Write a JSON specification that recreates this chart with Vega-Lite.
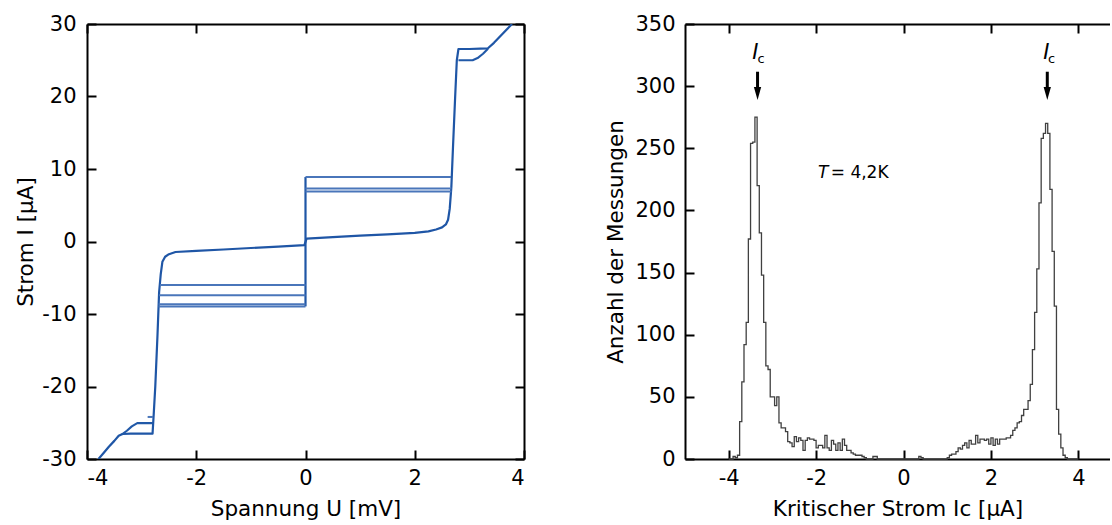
{
  "$schema": "https://vega.github.io/schema/vega-lite/v6.json",
  "padding": {"left": 15, "top": 13, "right": 0, "bottom": 0},
  "spacing": 80,
  "config": {
    "view": {"stroke": null},
    "font": "DejaVu Sans",
    "axis": {
      "grid": false,
      "domainColor": "black",
      "domainWidth": 2,
      "tickColor": "black",
      "tickWidth": 2,
      "tickSize": -9,
      "labelFont": "DejaVu Sans",
      "labelFontSize": 21,
      "labelColor": "black",
      "labelExpr": "replace(datum.label, '−', '-')",
      "titleFont": "DejaVu Sans",
      "titleFontSize": 21.5,
      "titleFontWeight": "normal",
      "titleColor": "black"
    }
  },
  "datasets": {
    "iv": [
      {"s": "m", "k": "main", "i": 0, "U": -3.79, "I": -30.0},
      {"s": "m", "k": "main", "i": 1, "U": -3.70, "I": -29.2},
      {"s": "m", "k": "main", "i": 2, "U": -3.60, "I": -28.3},
      {"s": "m", "k": "main", "i": 3, "U": -3.50, "I": -27.5},
      {"s": "m", "k": "main", "i": 4, "U": -3.42, "I": -26.8},
      {"s": "m", "k": "main", "i": 5, "U": -3.35, "I": -26.55},
      {"s": "m", "k": "main", "i": 6, "U": -3.20, "I": -26.5},
      {"s": "m", "k": "main", "i": 7, "U": -3.00, "I": -26.5},
      {"s": "m", "k": "main", "i": 8, "U": -2.80, "I": -26.5},
      {"s": "m", "k": "main", "i": 9, "U": -2.78, "I": -24.0},
      {"s": "m", "k": "main", "i": 10, "U": -2.75, "I": -20.0},
      {"s": "m", "k": "main", "i": 11, "U": -2.71, "I": -13.0},
      {"s": "m", "k": "main", "i": 12, "U": -2.68, "I": -7.0},
      {"s": "m", "k": "main", "i": 13, "U": -2.65, "I": -4.5},
      {"s": "m", "k": "main", "i": 14, "U": -2.62, "I": -2.8},
      {"s": "m", "k": "main", "i": 15, "U": -2.57, "I": -2.1},
      {"s": "m", "k": "main", "i": 16, "U": -2.50, "I": -1.75},
      {"s": "m", "k": "main", "i": 17, "U": -2.38, "I": -1.45},
      {"s": "m", "k": "main", "i": 18, "U": -2.00, "I": -1.3},
      {"s": "m", "k": "main", "i": 19, "U": -1.50, "I": -1.1},
      {"s": "m", "k": "main", "i": 20, "U": -1.00, "I": -0.9},
      {"s": "m", "k": "main", "i": 21, "U": -0.50, "I": -0.7},
      {"s": "m", "k": "main", "i": 22, "U": -0.02, "I": -0.5},
      {"s": "m", "k": "main", "i": 23, "U": 0.02, "I": 0.4},
      {"s": "m", "k": "main", "i": 24, "U": 0.50, "I": 0.6},
      {"s": "m", "k": "main", "i": 25, "U": 1.00, "I": 0.8},
      {"s": "m", "k": "main", "i": 26, "U": 1.50, "I": 0.98},
      {"s": "m", "k": "main", "i": 27, "U": 2.00, "I": 1.2},
      {"s": "m", "k": "main", "i": 28, "U": 2.25, "I": 1.4},
      {"s": "m", "k": "main", "i": 29, "U": 2.39, "I": 1.66},
      {"s": "m", "k": "main", "i": 30, "U": 2.50, "I": 1.95},
      {"s": "m", "k": "main", "i": 31, "U": 2.57, "I": 2.35},
      {"s": "m", "k": "main", "i": 32, "U": 2.61, "I": 3.0},
      {"s": "m", "k": "main", "i": 33, "U": 2.64, "I": 4.5},
      {"s": "m", "k": "main", "i": 34, "U": 2.67, "I": 7.5},
      {"s": "m", "k": "main", "i": 35, "U": 2.70, "I": 13.0},
      {"s": "m", "k": "main", "i": 36, "U": 2.74, "I": 20.0},
      {"s": "m", "k": "main", "i": 37, "U": 2.77, "I": 25.0},
      {"s": "m", "k": "main", "i": 38, "U": 2.80, "I": 26.55},
      {"s": "m", "k": "main", "i": 39, "U": 3.00, "I": 26.55},
      {"s": "m", "k": "main", "i": 40, "U": 3.20, "I": 26.6},
      {"s": "m", "k": "main", "i": 41, "U": 3.34, "I": 26.65},
      {"s": "m", "k": "main", "i": 42, "U": 3.45, "I": 27.4},
      {"s": "m", "k": "main", "i": 43, "U": 3.60, "I": 28.6},
      {"s": "m", "k": "main", "i": 44, "U": 3.78, "I": 30.0},
      {"s": "v", "k": "main", "i": 0, "U": 0.0, "I": -8.95},
      {"s": "v", "k": "main", "i": 1, "U": 0.0, "I": 8.9},
      {"s": "b1", "k": "branch", "i": 0, "U": 2.80, "I": 25.0},
      {"s": "b1", "k": "branch", "i": 1, "U": 3.06, "I": 25.0},
      {"s": "b1", "k": "branch", "i": 2, "U": 3.15, "I": 25.3},
      {"s": "b1", "k": "branch", "i": 3, "U": 3.25, "I": 25.9},
      {"s": "b1", "k": "branch", "i": 4, "U": 3.34, "I": 26.6},
      {"s": "b2", "k": "branch", "i": 0, "U": -2.79, "I": -25.05},
      {"s": "b2", "k": "branch", "i": 1, "U": -3.08, "I": -25.05},
      {"s": "b2", "k": "branch", "i": 2, "U": -3.18, "I": -25.5},
      {"s": "b2", "k": "branch", "i": 3, "U": -3.27, "I": -26.1},
      {"s": "b2", "k": "branch", "i": 4, "U": -3.36, "I": -26.6},
      {"s": "b3", "k": "hyst", "i": 0, "U": -2.89, "I": -24.2},
      {"s": "b3", "k": "hyst", "i": 1, "U": -2.79, "I": -24.2},
      {"s": "h1", "k": "hyst", "i": 0, "U": 0.0, "I": 8.9},
      {"s": "h1", "k": "hyst", "i": 1, "U": 2.665, "I": 8.9},
      {"s": "h2", "k": "hyst", "i": 0, "U": 0.0, "I": 7.3},
      {"s": "h2", "k": "hyst", "i": 1, "U": 2.67, "I": 7.3},
      {"s": "h3", "k": "hyst", "i": 0, "U": 0.0, "I": 6.9},
      {"s": "h3", "k": "hyst", "i": 1, "U": 2.67, "I": 6.9},
      {"s": "h4", "k": "hyst", "i": 0, "U": -2.665, "I": -6.0},
      {"s": "h4", "k": "hyst", "i": 1, "U": 0.0, "I": -6.0},
      {"s": "h5", "k": "hyst", "i": 0, "U": -2.68, "I": -7.4},
      {"s": "h5", "k": "hyst", "i": 1, "U": 0.0, "I": -7.4},
      {"s": "h6", "k": "hyst", "i": 0, "U": -2.69, "I": -8.65},
      {"s": "h6", "k": "hyst", "i": 1, "U": 0.0, "I": -8.65},
      {"s": "h7", "k": "hyst", "i": 0, "U": -2.69, "I": -8.95},
      {"s": "h7", "k": "hyst", "i": 1, "U": 0.0, "I": -8.95}
    ],
    "hist": [
      {"x": -4.00, "n": 0}, {"x": -3.95, "n": 0}, {"x": -3.90, "n": 2}, {"x": -3.85, "n": 1},
      {"x": -3.80, "n": 3}, {"x": -3.75, "n": 30}, {"x": -3.70, "n": 62}, {"x": -3.65, "n": 92},
      {"x": -3.60, "n": 110}, {"x": -3.55, "n": 177}, {"x": -3.50, "n": 254}, {"x": -3.45, "n": 255},
      {"x": -3.40, "n": 275}, {"x": -3.35, "n": 220}, {"x": -3.30, "n": 182}, {"x": -3.25, "n": 148},
      {"x": -3.20, "n": 110}, {"x": -3.15, "n": 75}, {"x": -3.10, "n": 72}, {"x": -3.05, "n": 50},
      {"x": -3.00, "n": 50}, {"x": -2.95, "n": 43}, {"x": -2.90, "n": 50}, {"x": -2.85, "n": 29},
      {"x": -2.80, "n": 25}, {"x": -2.75, "n": 25}, {"x": -2.70, "n": 22}, {"x": -2.65, "n": 14},
      {"x": -2.60, "n": 13}, {"x": -2.55, "n": 10}, {"x": -2.50, "n": 18}, {"x": -2.45, "n": 14},
      {"x": -2.40, "n": 17}, {"x": -2.35, "n": 15}, {"x": -2.30, "n": 7}, {"x": -2.25, "n": 15},
      {"x": -2.20, "n": 17}, {"x": -2.15, "n": 16}, {"x": -2.10, "n": 16}, {"x": -2.05, "n": 15},
      {"x": -2.00, "n": 9}, {"x": -1.95, "n": 11}, {"x": -1.90, "n": 11}, {"x": -1.85, "n": 9},
      {"x": -1.80, "n": 19}, {"x": -1.75, "n": 9}, {"x": -1.70, "n": 7}, {"x": -1.65, "n": 15},
      {"x": -1.60, "n": 12}, {"x": -1.55, "n": 7}, {"x": -1.50, "n": 13}, {"x": -1.45, "n": 7},
      {"x": -1.40, "n": 16}, {"x": -1.35, "n": 11}, {"x": -1.30, "n": 7}, {"x": -1.25, "n": 7},
      {"x": -1.20, "n": 5}, {"x": -1.15, "n": 4}, {"x": -1.10, "n": 3}, {"x": -1.05, "n": 3},
      {"x": -1.00, "n": 3}, {"x": -0.95, "n": 2}, {"x": -0.90, "n": 1}, {"x": -0.85, "n": 0},
      {"x": -0.80, "n": 0}, {"x": -0.75, "n": 0}, {"x": -0.70, "n": 2}, {"x": -0.65, "n": 2},
      {"x": -0.60, "n": 0}, {"x": -0.55, "n": 0}, {"x": -0.50, "n": 0}, {"x": -0.45, "n": 0},
      {"x": -0.40, "n": 0}, {"x": -0.35, "n": 0}, {"x": -0.30, "n": 0}, {"x": -0.25, "n": 0},
      {"x": -0.20, "n": 0}, {"x": -0.15, "n": 0}, {"x": -0.10, "n": 0}, {"x": -0.05, "n": 0},
      {"x": 0.00, "n": 0}, {"x": 0.05, "n": 0}, {"x": 0.10, "n": 0}, {"x": 0.15, "n": 0},
      {"x": 0.20, "n": 0}, {"x": 0.25, "n": 0}, {"x": 0.30, "n": 0}, {"x": 0.35, "n": 2},
      {"x": 0.40, "n": 1}, {"x": 0.45, "n": 0}, {"x": 0.50, "n": 0}, {"x": 0.55, "n": 0},
      {"x": 0.60, "n": 0}, {"x": 0.65, "n": 0}, {"x": 0.70, "n": 0}, {"x": 0.75, "n": 0},
      {"x": 0.80, "n": 0}, {"x": 0.85, "n": 0}, {"x": 0.90, "n": 0}, {"x": 0.95, "n": 0},
      {"x": 1.00, "n": 1}, {"x": 1.05, "n": 3}, {"x": 1.10, "n": 4}, {"x": 1.15, "n": 4},
      {"x": 1.20, "n": 6}, {"x": 1.25, "n": 9}, {"x": 1.30, "n": 8}, {"x": 1.35, "n": 11},
      {"x": 1.40, "n": 13}, {"x": 1.45, "n": 9}, {"x": 1.50, "n": 15}, {"x": 1.55, "n": 12},
      {"x": 1.60, "n": 12}, {"x": 1.65, "n": 19}, {"x": 1.70, "n": 13}, {"x": 1.75, "n": 16},
      {"x": 1.80, "n": 16}, {"x": 1.85, "n": 15}, {"x": 1.90, "n": 16}, {"x": 1.95, "n": 12},
      {"x": 2.00, "n": 17}, {"x": 2.05, "n": 11}, {"x": 2.10, "n": 16}, {"x": 2.15, "n": 12},
      {"x": 2.20, "n": 16}, {"x": 2.25, "n": 16}, {"x": 2.30, "n": 16}, {"x": 2.35, "n": 17},
      {"x": 2.40, "n": 17}, {"x": 2.45, "n": 19}, {"x": 2.50, "n": 23}, {"x": 2.55, "n": 25},
      {"x": 2.60, "n": 29}, {"x": 2.65, "n": 30}, {"x": 2.70, "n": 35}, {"x": 2.75, "n": 40},
      {"x": 2.80, "n": 40}, {"x": 2.85, "n": 47}, {"x": 2.90, "n": 60}, {"x": 2.95, "n": 88},
      {"x": 3.00, "n": 118}, {"x": 3.05, "n": 153}, {"x": 3.10, "n": 206}, {"x": 3.15, "n": 258},
      {"x": 3.20, "n": 262}, {"x": 3.25, "n": 270}, {"x": 3.30, "n": 262}, {"x": 3.35, "n": 217},
      {"x": 3.40, "n": 167}, {"x": 3.45, "n": 123}, {"x": 3.50, "n": 40}, {"x": 3.55, "n": 20},
      {"x": 3.60, "n": 9}, {"x": 3.65, "n": 3}, {"x": 3.70, "n": 1}, {"x": 3.75, "n": 0},
      {"x": 3.80, "n": 0}, {"x": 3.85, "n": 0}, {"x": 3.90, "n": 0}, {"x": 3.95, "n": 0},
      {"x": 4.00, "n": 0}
    ]
  },
  "hconcat": [
    {
      "width": 437,
      "height": 435,
      "data": {"name": "iv"},
      "layer": [
        {
          "mark": {"type": "line", "strokeJoin": "round", "strokeCap": "butt", "clip": true},
          "encoding": {
            "x": {"field": "U", "type": "quantitative", "scale": {"domain": [-4, 4], "nice": false, "zero": false},
                  "axis": {"orient": "bottom", "title": "Spannung U [mV]", "values": [-4, -2, 0, 2, 4], "labelPadding": 17, "titlePadding": 10}},
            "y": {"field": "I", "type": "quantitative", "scale": {"domain": [-30, 30], "nice": false, "zero": false},
                  "axis": {"orient": "left", "title": "Strom I [μA]", "values": [-30, -20, -10, 0, 10, 20, 30], "labelPadding": 20, "titlePadding": 4}},
            "detail": {"field": "s"},
            "order": {"field": "i", "type": "quantitative"},
            "color": {"field": "k", "type": "nominal", "scale": {"domain": ["main", "branch", "hyst"], "range": ["#1f56a6", "#2159a8", "#4a76ba"]}, "legend": null},
            "strokeWidth": {"field": "k", "type": "nominal", "scale": {"domain": ["main", "branch", "hyst"], "range": [2.2, 2.0, 1.0]}, "legend": null}
          }
        },
        {
          "mark": {"type": "line", "opacity": 0},
          "encoding": {
            "x": {"field": "U", "type": "quantitative", "scale": {"domain": [-4, 4], "nice": false, "zero": false},
                  "axis": {"orient": "top", "labels": false, "title": null, "values": [-4, -2, 0, 2, 4]}},
            "y": {"field": "I", "type": "quantitative", "scale": {"domain": [-30, 30], "nice": false, "zero": false},
                  "axis": {"orient": "right", "labels": false, "title": null, "values": [-30, -20, -10, 0, 10, 20, 30]}},
            "detail": {"field": "s"},
            "order": {"field": "i", "type": "quantitative"}
          }
        }
      ],
      "resolve": {"axis": {"x": "independent", "y": "independent"}}
    },
    {
      "width": 425,
      "height": 435,
      "layer": [
        {
          "data": {"name": "hist"},
          "mark": {"type": "line", "interpolate": "step-after", "color": "#404040", "strokeWidth": 1.3},
          "encoding": {
            "x": {"field": "x", "type": "quantitative", "scale": {"domain": [-5, 4.725], "nice": false, "zero": false},
                  "axis": {"orient": "bottom", "title": "Kritischer Strom Ic [μA]", "values": [-4, -2, 0, 2, 4], "labelPadding": 17, "titlePadding": 10}},
            "y": {"field": "n", "type": "quantitative", "scale": {"domain": [0, 350], "nice": false},
                  "axis": {"orient": "left", "title": "Anzahl der Messungen", "values": [0, 50, 100, 150, 200, 250, 300, 350], "labelPadding": 19, "titlePadding": 7}}
          }
        },
        {
          "data": {"name": "hist"},
          "mark": {"type": "line", "opacity": 0},
          "encoding": {
            "x": {"field": "x", "type": "quantitative", "scale": {"domain": [-5, 4.725], "nice": false, "zero": false},
                  "axis": {"orient": "top", "labels": false, "title": null, "values": [-4, -2, 0, 2, 4]}},
            "y": {"field": "n", "type": "quantitative", "scale": {"domain": [0, 350], "nice": false}, "axis": null}
          }
        },
        {
          "data": {"values": [{"x": -3.34, "y1": 298, "y2": 311.6}, {"x": 3.29, "y1": 298, "y2": 311.6}]},
          "mark": {"type": "rule", "color": "black", "strokeWidth": 3},
          "encoding": {
            "x": {"field": "x", "type": "quantitative", "scale": {"domain": [-5, 4.725], "nice": false, "zero": false}, "axis": null},
            "y": {"field": "y1", "type": "quantitative", "scale": {"domain": [0, 350], "nice": false}, "axis": null},
            "y2": {"field": "y2"}
          }
        },
        {
          "data": {"values": [{"x": -3.34, "y": 294}, {"x": 3.29, "y": 294}]},
          "mark": {"type": "point", "shape": "M-0.56,-1L0.56,-1L0,1Z", "filled": true, "color": "black", "opacity": 1, "size": 169, "strokeWidth": 0},
          "encoding": {
            "x": {"field": "x", "type": "quantitative", "scale": {"domain": [-5, 4.725], "nice": false, "zero": false}, "axis": null},
            "y": {"field": "y", "type": "quantitative", "scale": {"domain": [0, 350], "nice": false}, "axis": null}
          }
        },
        {
          "data": {"values": [{"x": -3.39, "y": 321.5, "t": "I"}, {"x": 3.27, "y": 321.5, "t": "I"}]},
          "mark": {"type": "text", "font": "DejaVu Sans", "fontSize": 21, "fontStyle": "italic", "color": "black", "align": "center", "baseline": "alphabetic"},
          "encoding": {
            "x": {"field": "x", "type": "quantitative", "scale": {"domain": [-5, 4.725], "nice": false, "zero": false}, "axis": null},
            "y": {"field": "y", "type": "quantitative", "scale": {"domain": [0, 350], "nice": false}, "axis": null},
            "text": {"field": "t"}
          }
        },
        {
          "data": {"values": [{"x": -3.26, "y": 318.5, "t": "c"}, {"x": 3.39, "y": 318.5, "t": "c"}]},
          "mark": {"type": "text", "font": "DejaVu Sans", "fontSize": 13, "color": "black", "align": "center", "baseline": "alphabetic"},
          "encoding": {
            "x": {"field": "x", "type": "quantitative", "scale": {"domain": [-5, 4.725], "nice": false, "zero": false}, "axis": null},
            "y": {"field": "y", "type": "quantitative", "scale": {"domain": [0, 350], "nice": false}, "axis": null},
            "text": {"field": "t"}
          }
        },
        {
          "data": {"values": [{"x": -1.72, "y": 226, "t": "T"}]},
          "mark": {"type": "text", "font": "DejaVu Sans", "fontSize": 17, "fontStyle": "italic", "color": "black", "align": "right", "baseline": "alphabetic"},
          "encoding": {
            "x": {"field": "x", "type": "quantitative", "scale": {"domain": [-5, 4.725], "nice": false, "zero": false}, "axis": null},
            "y": {"field": "y", "type": "quantitative", "scale": {"domain": [0, 350], "nice": false}, "axis": null},
            "text": {"field": "t"}
          }
        },
        {
          "data": {"values": [{"x": -1.665, "y": 226, "t": "= 4,2K"}]},
          "mark": {"type": "text", "font": "DejaVu Sans", "fontSize": 17, "color": "black", "align": "left", "baseline": "alphabetic"},
          "encoding": {
            "x": {"field": "x", "type": "quantitative", "scale": {"domain": [-5, 4.725], "nice": false, "zero": false}, "axis": null},
            "y": {"field": "y", "type": "quantitative", "scale": {"domain": [0, 350], "nice": false}, "axis": null},
            "text": {"field": "t"}
          }
        }
      ],
      "resolve": {"axis": {"x": "independent", "y": "independent"}}
    }
  ]
}
